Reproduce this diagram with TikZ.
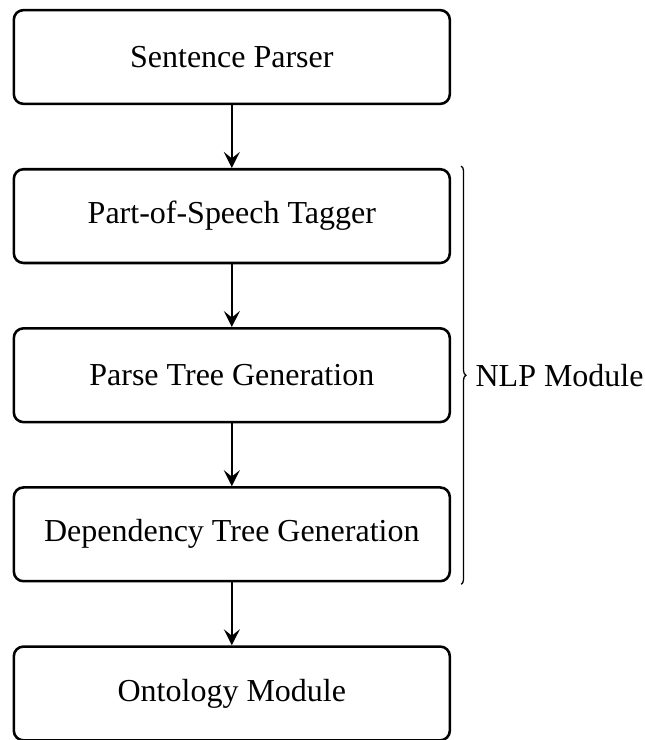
\documentclass[tikz,border=0pt]{standalone}
\usepackage{fontspec}
\setmainfont{Liberation Serif}
\usetikzlibrary{positioning,arrows.meta,decorations.pathreplacing}

\begin{document}
\begin{tikzpicture}[
	stage/.style={draw, thick, rounded corners=3pt, minimum width=4.79cm, minimum height=1.03cm},
	flow/.style={-{Stealth[length=5pt, width=5pt, inset=2pt]}, semithick},
	node distance=0.69cm
]
				\useasboundingbox (0,0) rectangle (7.08,-8.13);
				
				\node[stage] (parser) at (2.547,-0.626) {Sentence Parser};
				\node[stage, below=of parser] (tagger) {Part-of-Speech Tagger};
				\node[stage, below=of tagger] (parsetree) {Parse Tree Generation};
				\node[stage, below=of parsetree] (deptree) {Dependency Tree Generation};
				\node[stage, below=of deptree] (ontology) {Ontology Module};
				
				\draw[flow] (parser) -- (tagger);
				\draw[flow] (tagger) -- (parsetree);
				\draw[flow] (parsetree) -- (deptree);
				\draw[flow] (deptree) -- (ontology);
				
				\coordinate (bracetop) at ([xshift=0.11cm, yshift=0.02cm]tagger.north east);
				\coordinate (bracebot) at ([xshift=0.11cm, yshift=-0.02cm]deptree.south east);
				\draw[thin, decorate, decoration={brace, amplitude=1.5pt}] (bracetop) -- (bracebot)
					node[midway, right=1pt] (nlp) {NLP Module};
				\end{tikzpicture}
\end{document}
